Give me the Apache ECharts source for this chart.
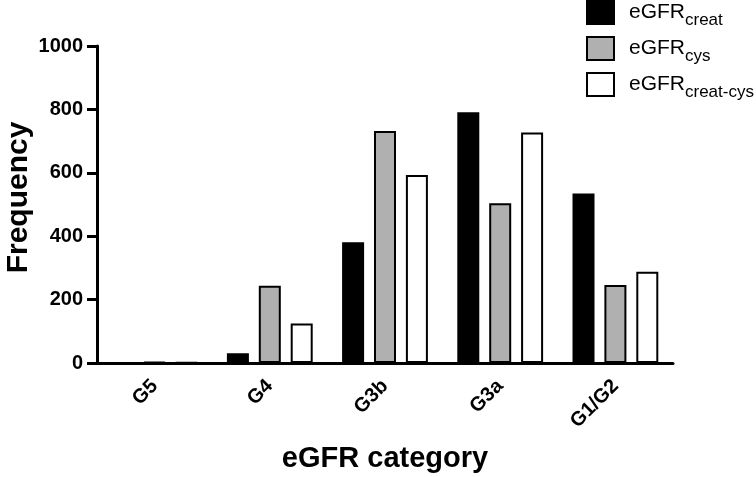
<!DOCTYPE html>
<html>
<head>
<meta charset="utf-8">
<script src="https://cdn.jsdelivr.net/npm/echarts@6/dist/echarts.min.js"></script>
<style>
html, body { margin: 0; padding: 0; background: #fff; }
#chart { width: 756px; height: 477px; }
</style>
</head>
<body>
<div id="chart"></div>
<script>
// 数据
var categories = ['G5', 'G4', 'G3b', 'G3a', 'G1/G2'];
var seriesSubs = ['creat', 'cys', 'creat-cys'];
var creatValues = [0, 31, 381, 791, 535];
var cysValues = [3, 244, 732, 504, 246];
var creatCysValues = [1, 125, 593, 727, 288];
var yTicks = [0, 200, 400, 600, 800, 1000];

var fillColors = ['#000000', '#b0b0b0', '#ffffff'];
var font = '"Liberation Sans", Arial, Helvetica, sans-serif';

var chart = echarts.init(document.getElementById('chart'));

function makeSeries(idx, data) {
	return {
		name: 'eGFR' + seriesSubs[idx],
		type: 'bar',
		data: data,
		barWidth: 22,
		barGap: '45%',
		itemStyle: {
			color: fillColors[idx],
			borderColor: '#000',
			borderWidth: 2
		},
		emphasis: { disabled: true }
	};
}

chart.setOption({
	animation: false,
	textStyle: { fontFamily: font },
	grid: { left: 97, right: 83, top: 46, bottom: 114, containLabel: false, outerBoundsMode: 'none' },
	legend: {
		left: 586,
		top: 0,
		padding: 0,
		orient: 'vertical',
		itemWidth: 27,
		itemHeight: 23,
		itemGap: 7,
		icon: 'rect',
		selectedMode: false,
		itemStyle: { borderColor: '#000', borderWidth: 2 },
		formatter: function(name) {
			return '{a|eGFR}{b|' + name.replace('eGFR', '') + '}';
		},
		textStyle: {
			padding: [0, 0, 0, 10],
			rich: {
				a: { fontSize: 21, color: '#000', fontFamily: font, lineHeight: 21, verticalAlign: 'top' },
				b: { fontSize: 17, color: '#000', fontFamily: font, lineHeight: 17, verticalAlign: 'top', padding: [10, 0, 0, 0] }
			}
		}
	},
	xAxis: {
		type: 'category',
		data: categories,
		name: 'eGFR category',
		nameLocation: 'middle',
		nameGap: 81,
		nameMoveOverlap: false,
		nameTextStyle: { fontSize: 29, fontWeight: 'bold', color: '#000', fontFamily: font },
		axisLine: { lineStyle: { color: '#000', width: 3 } },
		axisTick: { alignWithLabel: true, length: 9, lineStyle: { color: '#000', width: 3 } },
		axisLabel: { rotate: 45, fontSize: 20, fontWeight: 'bold', color: '#000', margin: 20, fontFamily: font }
	},
	yAxis: {
		type: 'value',
		min: 0,
		max: 1000,
		interval: 200,
		name: 'Frequency',
		nameLocation: 'middle',
		nameGap: 63,
		nameMoveOverlap: false,
		nameTextStyle: { fontSize: 30, fontWeight: 'bold', color: '#000', fontFamily: font, padding: [0, 0, 0, 14] },
		splitLine: { show: false },
		axisLine: { show: true, lineStyle: { color: '#000', width: 3 } },
		axisTick: { show: true, length: 10, lineStyle: { color: '#000', width: 3 } },
		axisLabel: {
			fontSize: 20, fontWeight: 'bold', color: '#000', margin: 14, fontFamily: font,
			formatter: function(v) { return yTicks.indexOf(v) >= 0 ? String(v) : ''; }
		}
	},
	series: [
		makeSeries(0, creatValues),
		makeSeries(1, cysValues),
		makeSeries(2, creatCysValues)
	]
});
</script>
</body>
</html>
